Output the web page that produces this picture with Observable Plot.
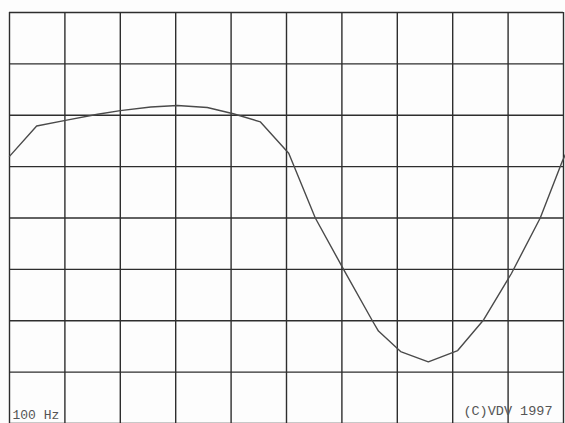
<!DOCTYPE html>
<html>
<head>
<meta charset="utf-8">
<script src="https://cdn.jsdelivr.net/npm/d3@7"></script>
<script src="https://cdn.jsdelivr.net/npm/@observablehq/plot@0.6"></script>
<style>
  html, body { margin: 0; padding: 0; background: #fdfdfd; }
  #chart { width: 565px; height: 423px; overflow: hidden; }
</style>
</head>
<body>
<div id="chart"></div>
<script>
// Grid divisions (10 horizontal, 8 vertical)
const xTicks = [0, 1, 2, 3, 4, 5, 6, 7, 8, 9, 10];
const yTicks = [0, 1, 2, 3, 4, 5, 6, 7, 8];

// Response curve (x in grid divisions, y in grid divisions from bottom)
const divX  = [0, 0.49, 1.01, 1.59, 2.0, 2.55, 3.03, 3.57, 4.04, 4.53, 5.04, 5.52, 6.03, 6.55, 6.66, 7.06, 7.56, 8.09, 8.56, 9.06, 9.58, 9.98, 10.04];
const level = [5.20, 5.79, 5.90, 6.02, 6.09, 6.16, 6.19, 6.15, 6.03, 5.87, 5.26, 4.0, 3.0, 2.0, 1.8, 1.4, 1.2, 1.42, 2.02, 2.92, 4.0, 5.11, 5.25];

// Labels
const startLabel = "100 Hz";
const copyright = "(C)VDV 1997";

const curve = divX.map((x, i) => ({x, y: level[i]}));

const chart = Plot.plot({
  width: 565,
  height: 423,
  marginLeft: 9,
  marginRight: 2,
  marginTop: 12,
  marginBottom: 0,
  x: {domain: [0, 10], axis: null},
  y: {domain: [0, 8], axis: null},
  style: {background: "#fdfdfd"},
  marks: [
    Plot.ruleX(xTicks, {stroke: "#2e2e2e", strokeWidth: 1.4}),
    Plot.ruleY(yTicks, {stroke: "#2e2e2e", strokeWidth: 1.4}),
    Plot.line(curve, {x: "x", y: "y", stroke: "#4a4a4a", strokeWidth: 1.4, curve: "linear"}),
    Plot.text([startLabel], {
      frameAnchor: "bottom-left", textAnchor: "start", lineAnchor: "bottom",
      dx: 3, dy: -5, fontFamily: "Liberation Mono, DejaVu Sans Mono, monospace",
      fontSize: 13, fill: "#555"
    }),
    Plot.text([copyright], {
      frameAnchor: "bottom-right", textAnchor: "end", lineAnchor: "bottom",
      dx: -11, dy: -9, fontFamily: "Liberation Mono, DejaVu Sans Mono, monospace",
      fontSize: 13.5, fill: "#555"
    })
  ]
});
document.getElementById("chart").appendChild(chart);
</script>
</body>
</html>
